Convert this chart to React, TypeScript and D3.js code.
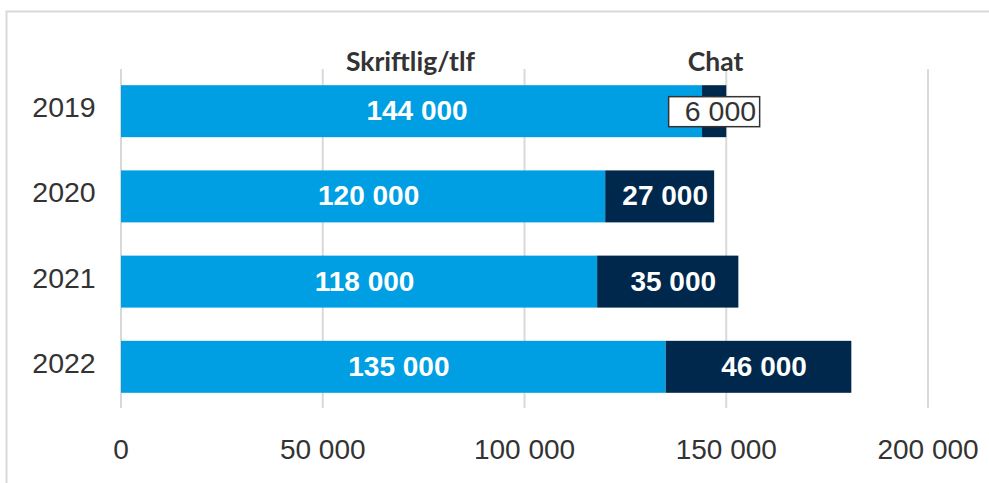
import React, { useEffect, useRef } from 'react';
import * as d3 from 'd3';

// data
const years = ['2019', '2020', '2021', '2022'];
const skriftlig = [144000, 120000, 118000, 135000];
const chat = [6000, 27000, 35000, 46000];
const ticks = [0, 50000, 100000, 150000, 200000];

const width = 989;
const height = 483;
const fmt = (v: number) => d3.format(',')(v).replace(/,/g, ' ');

const LIGHT = '#009FE3';
const DARK = '#00284D';
const SANS = 'Liberation Sans, Arial, sans-serif';

export default function App() {
  const svgRef = useRef<SVGSVGElement>(null);

  useEffect(() => {
    const svg = d3.select(svgRef.current);
    svg.selectAll('*').remove();

    const x = d3.scaleLinear().domain([0, 200000]).range([121, 928]);
    const y = d3.scaleBand().domain(years).range([69, 409]).paddingInner(0.39).paddingOuter(0.19);

    // frame
    svg.append('path')
      .attr('d', `M${width},11.5 H6.5 V${height}`)
      .attr('fill', 'none')
      .attr('stroke', '#d9d9d9')
      .attr('stroke-width', 2);

    // gridlines
    svg.append('g')
      .selectAll('line')
      .data(ticks)
      .join('line')
      .attr('x1', d => x(d)).attr('x2', d => x(d))
      .attr('y1', 69).attr('y2', 408)
      .attr('stroke', '#d9d9d9')
      .attr('stroke-width', 2);

    // x tick labels
    svg.append('g')
      .selectAll('text')
      .data(ticks)
      .join('text')
      .attr('x', d => x(d))
      .attr('y', 459)
      .attr('text-anchor', 'middle')
      .attr('font-family', SANS)
      .attr('font-size', 28)
      .attr('fill', '#333')
      .text(d => fmt(d));

    // year labels
    svg.append('g')
      .selectAll('text')
      .data(years)
      .join('text')
      .attr('x', 64)
      .attr('y', d => y(d)! + y.bandwidth() / 2 + 6)
      .attr('text-anchor', 'middle')
      .attr('font-family', SANS)
      .attr('font-size', 28.5)
      .attr('fill', '#333')
      .text(d => d);

    const rows = years.map((yr, i) => ({ yr, a: skriftlig[i], b: chat[i] }));

    // bars
    svg.append('g')
      .selectAll('rect')
      .data(rows)
      .join('rect')
      .attr('x', x(0))
      .attr('y', d => y(d.yr)!)
      .attr('width', d => x(d.a) - x(0))
      .attr('height', y.bandwidth())
      .attr('fill', LIGHT);

    svg.append('g')
      .selectAll('rect')
      .data(rows)
      .join('rect')
      .attr('x', d => x(d.a))
      .attr('y', d => y(d.yr)!)
      .attr('width', d => x(d.a + d.b) - x(d.a))
      .attr('height', y.bandwidth())
      .attr('fill', DARK);

    // value labels
    const label = (sel: any) => sel
      .attr('font-family', SANS)
      .attr('font-weight', 'bold')
      .attr('font-size', 28)
      .attr('fill', '#fff')
      .attr('text-anchor', 'middle');

    svg.append('g')
      .selectAll('text')
      .data(rows)
      .join('text')
      .call(label)
      .attr('x', d => (x(0) + x(d.a)) / 2 + 5.5)
      .attr('y', d => y(d.yr)! + y.bandwidth() / 2 + 9)
      .text(d => fmt(d.a));

    svg.append('g')
      .selectAll('text')
      .data(rows.slice(1))
      .join('text')
      .call(label)
      .attr('x', d => (x(d.a) + x(d.a + d.b)) / 2 + 5.5)
      .attr('y', d => y(d.yr)! + y.bandwidth() / 2 + 9)
      .text(d => fmt(d.b));

    // 2019 chat label in a callout box
    const r0 = rows[0];
    const cy = y(r0.yr)! + y.bandwidth() / 2;
    const cx = (x(r0.a) + x(r0.a + r0.b)) / 2;
    svg.append('rect')
      .attr('x', cx - 45.5)
      .attr('y', cy - 14.5)
      .attr('width', 91)
      .attr('height', 30)
      .attr('fill', '#fff')
      .attr('stroke', '#333')
      .attr('stroke-width', 1.5);
    svg.append('text')
      .attr('x', cx + 42)
      .attr('y', cy + 9.5)
      .attr('text-anchor', 'end')
      .attr('font-family', SANS)
      .attr('font-size', 28.5)
      .attr('fill', '#333')
      .text(fmt(r0.b));

    // series headers
    const headers = [
      { name: 'Skriftlig/tlf', cx: (x(0) + x(r0.a)) / 2 - 1 },
      { name: 'Chat', cx: cx + 1.5 },
    ];
    svg.append('g')
      .selectAll('text')
      .data(headers)
      .join('text')
      .attr('x', d => d.cx)
      .attr('y', 71)
      .attr('text-anchor', 'middle')
      .attr('font-family', 'Lato, Open Sans, sans-serif')
      .attr('font-weight', 'bold')
      .attr('font-size', 26.5)
      .attr('fill', '#333')
      .text(d => d.name);
  }, []);

  return (
    <svg ref={svgRef} width={width} height={height}
      style={{ position: 'absolute', left: 0, top: 0, background: '#fff' }} />
  );
}
